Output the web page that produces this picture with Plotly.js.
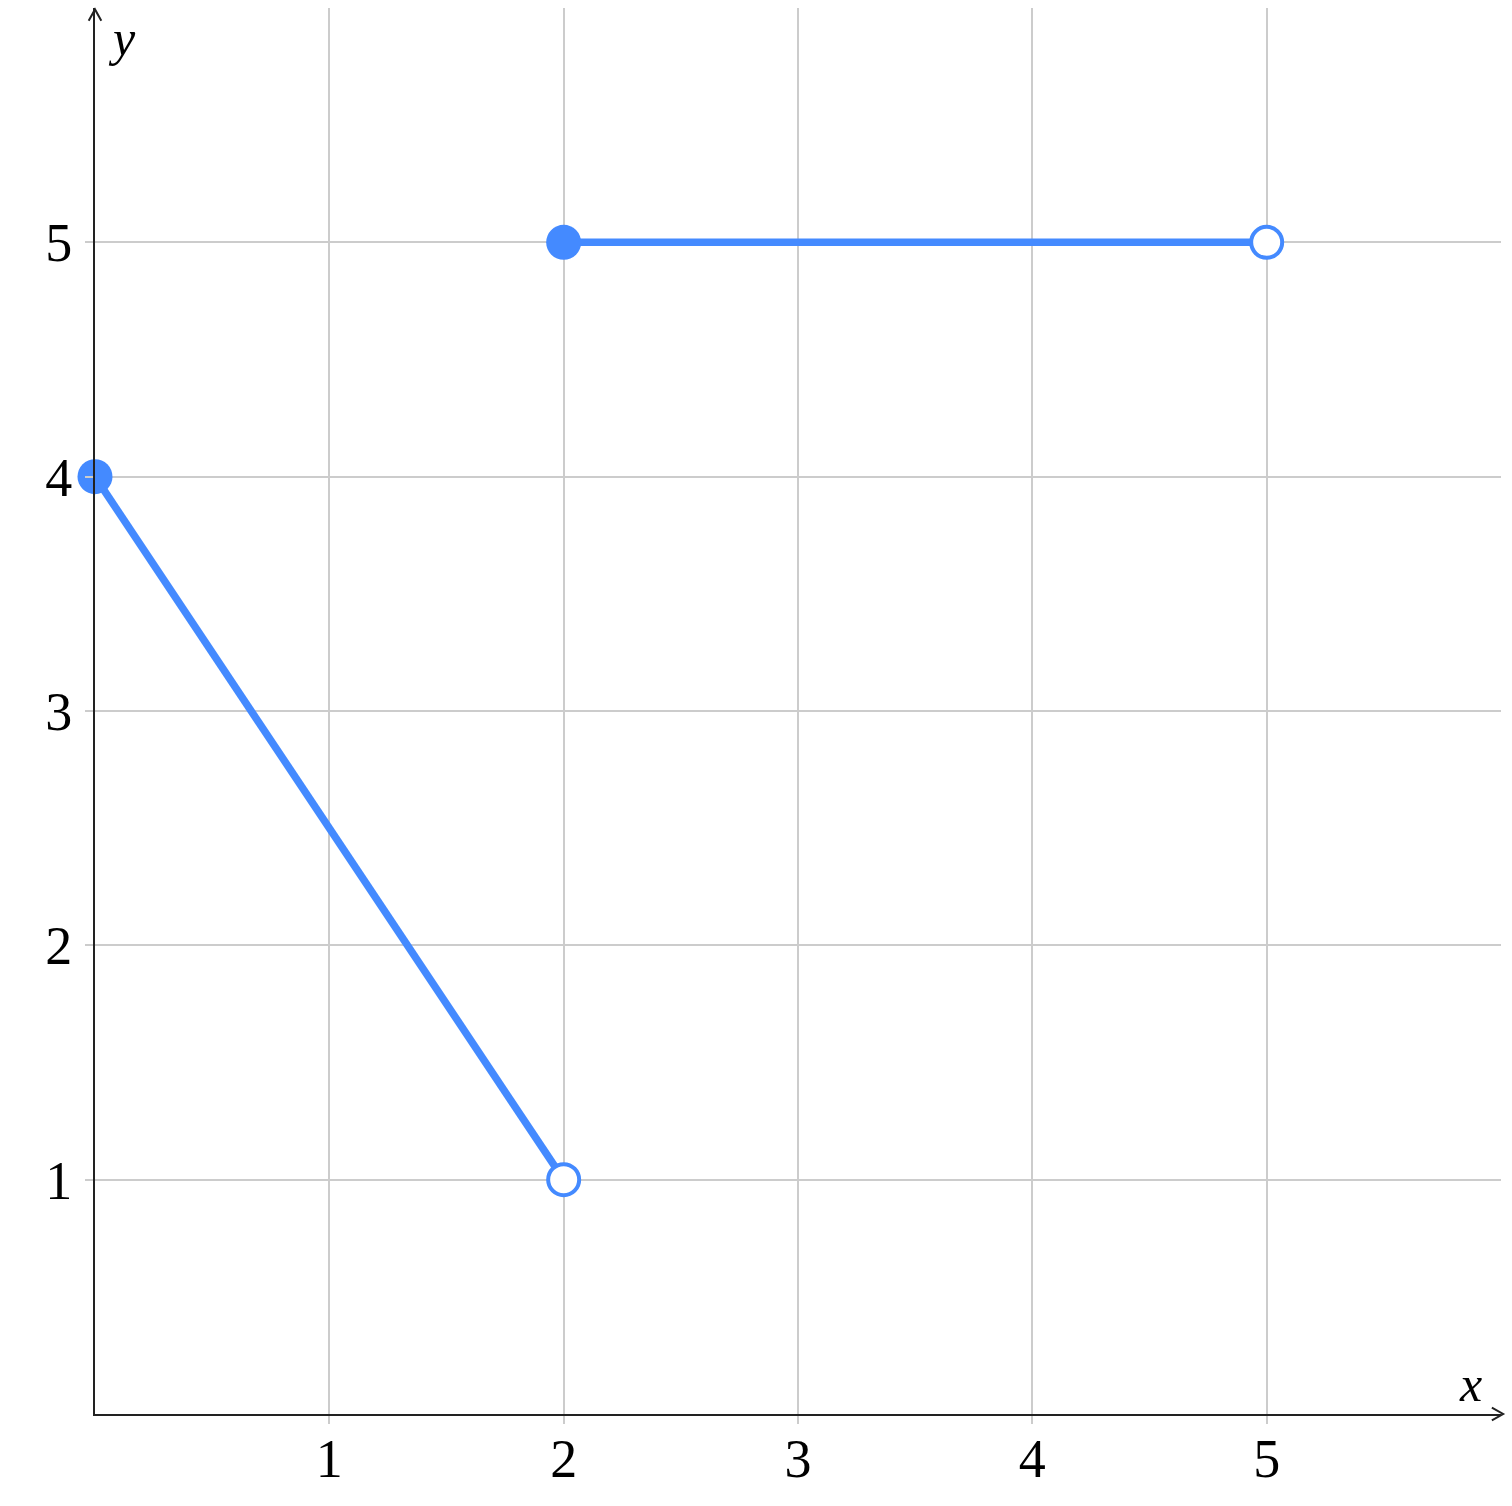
<!DOCTYPE html>
<html>
<head>
<meta charset="utf-8">
<script src="https://cdn.plot.ly/plotly-3.0.1.min.js"></script>
<style>html,body{margin:0;padding:0;background:#fff;}#chart{width:1512px;height:1506px;}</style>
</head>
<body>
<div id="chart"></div>
<script>
// Piece 1: line from (0,4) to (2,1)
const seg1X = [0, 2];
const seg1Y = [4, 1];
// Piece 2: horizontal line from (2,5) to (5,5)
const seg2X = [2, 5];
const seg2Y = [5, 5];
// Endpoints
const closedX = [0, 2];
const closedY = [4, 5];
const openX = [2, 5];
const openY = [1, 5];
// Ticks
const xTicks = [1, 2, 3, 4, 5];
const yTicks = [1, 2, 3, 4, 5];
const xRange = [0, 6];
const yRange = [0, 6];

const blue = '#448aff';
const serif = '"Liberation Serif", "DejaVu Serif", serif';

const traces = [
  {x: seg1X, y: seg1Y, mode: 'lines', line: {color: blue, width: 7.5}, cliponaxis: false, hoverinfo: 'skip'},
  {x: seg2X, y: seg2Y, mode: 'lines', line: {color: blue, width: 7.5}, cliponaxis: false, hoverinfo: 'skip'},
  {x: closedX, y: closedY, mode: 'markers', marker: {color: blue, size: 35}, cliponaxis: false},
  {x: openX, y: openY, mode: 'markers', marker: {color: '#ffffff', size: 31, line: {color: blue, width: 4}}, cliponaxis: false}
];

const layout = {
  width: 1512, height: 1506,
  margin: {l: 94.5, r: 10.5, t: 8, b: 91.5},
  paper_bgcolor: '#fff', plot_bgcolor: '#fff',
  showlegend: false,
  xaxis: {
    range: xRange, tickvals: xTicks, ticktext: xTicks.map(String),
    showgrid: true, gridcolor: '#cccccc', gridwidth: 2,
    zeroline: false, showline: true, linecolor: '#222', linewidth: 2,
    ticks: 'outside', ticklen: 8, tickwidth: 2, tickcolor: '#cccccc',
    ticklabelstandoff: -12,
    tickfont: {family: serif, size: 54, color: '#000'}
  },
  yaxis: {
    range: yRange, tickvals: yTicks, ticktext: yTicks.map(String),
    showgrid: true, gridcolor: '#cccccc', gridwidth: 2,
    zeroline: false, showline: true, linecolor: '#222', linewidth: 2,
    ticks: 'outside', ticklen: 8, tickwidth: 2, tickcolor: '#cccccc',
    ticklabelstandoff: 2,
    tickfont: {family: serif, size: 54, color: '#000'}
  },
  shapes: [
    {type: 'path', xref: 'paper', yref: 'paper', path: 'M -0.0045 0.991 L 0 0.999 L 0.0045 0.991', line: {color: '#222', width: 2}},
    {type: 'path', xref: 'paper', yref: 'paper', path: 'M 0.9935 0.0045 L 1.0015 0 L 0.9935 -0.0045', line: {color: '#222', width: 2}}
  ],
  annotations: [
    {xref: 'paper', yref: 'paper', x: 0.0195, y: 0.979, text: '<i>y</i>', showarrow: false,
     font: {family: serif, size: 50, color: '#000'}, xanchor: 'center', yanchor: 'middle'},
    {xref: 'paper', yref: 'paper', x: 0.9785, y: 0.021, text: '<i>x</i>', showarrow: false,
     font: {family: serif, size: 50, color: '#000'}, xanchor: 'center', yanchor: 'middle'}
  ]
};

Plotly.newPlot('chart', traces, layout, {displayModeBar: false, staticPlot: true});
</script>
</body>
</html>
